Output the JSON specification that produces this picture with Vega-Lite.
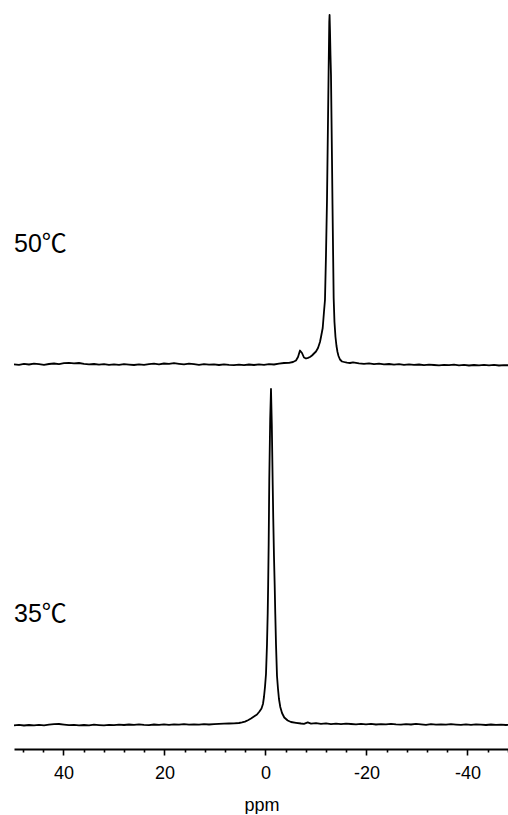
{
  "$schema": "https://vega.github.io/schema/vega-lite/v6.json",
  "padding": {"left": 13, "right": 0, "top": 0, "bottom": 0},
  "background": "white",
  "config": {"view": {"stroke": null}, "concat": {"spacing": 4}, "font": "Liberation Sans"},
  "datasets": {
    "top": [
      {"ppm": 49.80, "v": -0.3}, {"ppm": 48.81, "v": -0.8}, {"ppm": 47.82, "v": 0.1}, {"ppm": 46.83, "v": -0.5},
      {"ppm": 45.84, "v": 0.4}, {"ppm": 44.85, "v": -0.2}, {"ppm": 43.86, "v": -0.9}, {"ppm": 42.87, "v": 0.0},
      {"ppm": 41.88, "v": 0.5}, {"ppm": 40.89, "v": -0.1}, {"ppm": 39.90, "v": 0.8}, {"ppm": 38.91, "v": 1.1},
      {"ppm": 37.92, "v": 0.6}, {"ppm": 36.93, "v": 1.0}, {"ppm": 35.94, "v": 0.2}, {"ppm": 34.95, "v": -0.3},
      {"ppm": 33.96, "v": 0.0}, {"ppm": 32.97, "v": -0.7}, {"ppm": 31.98, "v": -0.2}, {"ppm": 30.99, "v": -0.9},
      {"ppm": 30.00, "v": -0.3}, {"ppm": 29.01, "v": -0.8}, {"ppm": 28.02, "v": -0.1}, {"ppm": 27.03, "v": -0.6},
      {"ppm": 26.04, "v": -1.0}, {"ppm": 25.05, "v": -0.4}, {"ppm": 24.06, "v": -0.9}, {"ppm": 23.07, "v": -0.2},
      {"ppm": 22.08, "v": 0.3}, {"ppm": 21.09, "v": -0.3}, {"ppm": 20.10, "v": 0.5}, {"ppm": 19.11, "v": 0.1},
      {"ppm": 18.12, "v": 0.8}, {"ppm": 17.13, "v": 0.2}, {"ppm": 16.14, "v": -0.4}, {"ppm": 15.15, "v": 0.4},
      {"ppm": 14.16, "v": -0.2}, {"ppm": 13.17, "v": -0.8}, {"ppm": 12.18, "v": -0.1}, {"ppm": 11.19, "v": -0.7},
      {"ppm": 10.20, "v": -0.3}, {"ppm": 9.21, "v": -1.0}, {"ppm": 8.22, "v": -0.4}, {"ppm": 7.23, "v": -0.9},
      {"ppm": 6.24, "v": -1.2}, {"ppm": 5.25, "v": -0.6}, {"ppm": 4.26, "v": -1.1}, {"ppm": 3.27, "v": -0.5},
      {"ppm": 2.28, "v": -1.0}, {"ppm": 1.29, "v": -0.4}, {"ppm": 0.30, "v": -0.8}, {"ppm": -0.69, "v": -0.1},
      {"ppm": -1.68, "v": -0.5}, {"ppm": -2.67, "v": 0.4}, {"ppm": -3.66, "v": 1.0}, {"ppm": -4.65, "v": 1.2},
      {"ppm": -5.45, "v": 2.0}, {"ppm": -6.04, "v": 3.5}, {"ppm": -6.44, "v": 7.0}, {"ppm": -6.83, "v": 13.5},
      {"ppm": -7.23, "v": 11.0}, {"ppm": -7.62, "v": 6.5}, {"ppm": -8.02, "v": 5.5}, {"ppm": -8.42, "v": 6.2},
      {"ppm": -8.81, "v": 7.0}, {"ppm": -9.21, "v": 8.5}, {"ppm": -9.60, "v": 10.5}, {"ppm": -10.00, "v": 12.5},
      {"ppm": -10.40, "v": 16.0}, {"ppm": -10.79, "v": 22.0}, {"ppm": -10.99, "v": 27.0}, {"ppm": -11.33, "v": 36.0},
      {"ppm": -11.58, "v": 52.0}, {"ppm": -11.78, "v": 64.0}, {"ppm": -11.98, "v": 109.0}, {"ppm": -12.18, "v": 164.0},
      {"ppm": -12.38, "v": 244.0}, {"ppm": -12.51, "v": 297.0}, {"ppm": -12.63, "v": 342.0}, {"ppm": -12.69, "v": 349.0},
      {"ppm": -12.77, "v": 334.0}, {"ppm": -12.87, "v": 309.0}, {"ppm": -12.97, "v": 289.0}, {"ppm": -13.17, "v": 204.0},
      {"ppm": -13.27, "v": 159.0}, {"ppm": -13.50, "v": 66.0}, {"ppm": -13.66, "v": 42.0}, {"ppm": -13.86, "v": 27.0},
      {"ppm": -14.06, "v": 18.0}, {"ppm": -14.26, "v": 12.0}, {"ppm": -14.46, "v": 8.0}, {"ppm": -14.75, "v": 4.5},
      {"ppm": -15.15, "v": 2.5}, {"ppm": -15.54, "v": 2.0}, {"ppm": -16.14, "v": 1.3}, {"ppm": -16.73, "v": 1.0},
      {"ppm": -17.33, "v": 1.6}, {"ppm": -17.92, "v": 1.1}, {"ppm": -18.51, "v": 0.6}, {"ppm": -19.50, "v": 0.1},
      {"ppm": -20.50, "v": 0.6}, {"ppm": -21.49, "v": -0.2}, {"ppm": -22.48, "v": 0.3}, {"ppm": -23.47, "v": -0.4},
      {"ppm": -24.46, "v": 0.0}, {"ppm": -25.45, "v": -0.6}, {"ppm": -26.44, "v": -0.2}, {"ppm": -27.43, "v": -0.8},
      {"ppm": -28.42, "v": -0.3}, {"ppm": -29.41, "v": -0.9}, {"ppm": -30.40, "v": -0.5}, {"ppm": -31.39, "v": -1.1},
      {"ppm": -32.38, "v": -0.6}, {"ppm": -33.37, "v": -1.0}, {"ppm": -34.36, "v": -1.4}, {"ppm": -35.35, "v": -0.8},
      {"ppm": -36.34, "v": -1.2}, {"ppm": -37.33, "v": -0.7}, {"ppm": -38.32, "v": -1.3}, {"ppm": -39.31, "v": -0.9},
      {"ppm": -40.30, "v": -1.5}, {"ppm": -41.29, "v": -1.0}, {"ppm": -42.28, "v": -1.4}, {"ppm": -43.27, "v": -0.8},
      {"ppm": -44.26, "v": -1.3}, {"ppm": -45.25, "v": -0.9}, {"ppm": -46.24, "v": -1.5}, {"ppm": -47.23, "v": -1.1},
      {"ppm": -48.22, "v": -1.3}
    ],
    "bottom": [
      {"ppm": 49.80, "v": -1.3}, {"ppm": 48.81, "v": -0.8}, {"ppm": 47.82, "v": -1.5}, {"ppm": 46.83, "v": -1.0},
      {"ppm": 45.84, "v": -1.4}, {"ppm": 44.85, "v": -0.9}, {"ppm": 43.86, "v": -1.3}, {"ppm": 42.87, "v": -0.7},
      {"ppm": 41.88, "v": -0.2}, {"ppm": 40.89, "v": 0.0}, {"ppm": 39.90, "v": -0.6}, {"ppm": 38.91, "v": -1.2},
      {"ppm": 37.92, "v": -0.9}, {"ppm": 36.93, "v": -1.4}, {"ppm": 35.94, "v": -1.0}, {"ppm": 34.95, "v": -1.3},
      {"ppm": 33.96, "v": -0.7}, {"ppm": 32.97, "v": -1.1}, {"ppm": 31.98, "v": -1.4}, {"ppm": 30.99, "v": -0.8},
      {"ppm": 30.00, "v": -1.2}, {"ppm": 29.01, "v": -0.6}, {"ppm": 28.02, "v": -1.0}, {"ppm": 27.03, "v": -0.5},
      {"ppm": 26.04, "v": -0.9}, {"ppm": 25.05, "v": -0.3}, {"ppm": 24.06, "v": -0.8}, {"ppm": 23.07, "v": -1.1},
      {"ppm": 22.08, "v": -0.5}, {"ppm": 21.09, "v": -0.9}, {"ppm": 20.10, "v": -0.4}, {"ppm": 19.11, "v": -0.8},
      {"ppm": 18.12, "v": -0.3}, {"ppm": 17.13, "v": -0.7}, {"ppm": 16.14, "v": -0.2}, {"ppm": 15.15, "v": -0.6},
      {"ppm": 14.16, "v": -0.3}, {"ppm": 13.17, "v": -0.7}, {"ppm": 12.18, "v": -0.2}, {"ppm": 11.19, "v": -0.5},
      {"ppm": 10.20, "v": -0.1}, {"ppm": 9.21, "v": 0.1}, {"ppm": 8.22, "v": 0.3}, {"ppm": 7.23, "v": 0.5},
      {"ppm": 6.24, "v": 0.7}, {"ppm": 5.25, "v": 1.0}, {"ppm": 4.65, "v": 1.6}, {"ppm": 4.06, "v": 2.4},
      {"ppm": 3.47, "v": 3.8}, {"ppm": 2.87, "v": 5.5}, {"ppm": 2.28, "v": 7.5}, {"ppm": 1.68, "v": 9.5},
      {"ppm": 1.19, "v": 12.5}, {"ppm": 0.79, "v": 15.5}, {"ppm": 0.50, "v": 20.0}, {"ppm": 0.30, "v": 27.0},
      {"ppm": 0.10, "v": 37.0}, {"ppm": -0.10, "v": 50.0}, {"ppm": -0.30, "v": 80.0}, {"ppm": -0.44, "v": 111.0},
      {"ppm": -0.53, "v": 140.0}, {"ppm": -0.63, "v": 180.0}, {"ppm": -0.75, "v": 244.0}, {"ppm": -0.93, "v": 305.0},
      {"ppm": -1.09, "v": 335.0}, {"ppm": -1.25, "v": 300.0}, {"ppm": -1.43, "v": 239.0}, {"ppm": -1.54, "v": 205.0},
      {"ppm": -1.68, "v": 168.0}, {"ppm": -1.82, "v": 139.0}, {"ppm": -1.94, "v": 110.0}, {"ppm": -2.08, "v": 80.0},
      {"ppm": -2.28, "v": 48.0}, {"ppm": -2.48, "v": 35.0}, {"ppm": -2.67, "v": 25.0}, {"ppm": -2.93, "v": 17.0},
      {"ppm": -3.27, "v": 11.0}, {"ppm": -3.72, "v": 6.5}, {"ppm": -4.40, "v": 3.5}, {"ppm": -5.05, "v": 2.0},
      {"ppm": -6.04, "v": 1.2}, {"ppm": -7.03, "v": 0.5}, {"ppm": -7.62, "v": 0.2}, {"ppm": -8.36, "v": 1.6},
      {"ppm": -9.01, "v": 0.4}, {"ppm": -10.00, "v": 0.8}, {"ppm": -10.99, "v": 0.2}, {"ppm": -11.98, "v": 0.6},
      {"ppm": -12.97, "v": -0.1}, {"ppm": -13.96, "v": 0.4}, {"ppm": -14.95, "v": -0.2}, {"ppm": -15.94, "v": 0.3},
      {"ppm": -16.93, "v": 0.0}, {"ppm": -17.92, "v": -0.4}, {"ppm": -18.91, "v": 0.2}, {"ppm": -19.90, "v": -0.3},
      {"ppm": -20.89, "v": 0.1}, {"ppm": -21.88, "v": -0.5}, {"ppm": -22.87, "v": -0.1}, {"ppm": -23.86, "v": -0.4},
      {"ppm": -24.85, "v": 0.2}, {"ppm": -25.84, "v": -0.3}, {"ppm": -26.83, "v": -0.6}, {"ppm": -27.82, "v": -0.1},
      {"ppm": -28.81, "v": -0.5}, {"ppm": -29.80, "v": 0.1}, {"ppm": -30.79, "v": -0.4}, {"ppm": -31.78, "v": -0.8},
      {"ppm": -32.77, "v": -0.2}, {"ppm": -33.76, "v": -0.6}, {"ppm": -34.75, "v": -0.3}, {"ppm": -35.74, "v": -0.7},
      {"ppm": -36.73, "v": -0.2}, {"ppm": -37.72, "v": -0.6}, {"ppm": -38.71, "v": -0.9}, {"ppm": -39.70, "v": -0.4},
      {"ppm": -40.69, "v": -0.8}, {"ppm": -41.68, "v": -0.3}, {"ppm": -42.67, "v": -0.7}, {"ppm": -43.66, "v": -1.0},
      {"ppm": -44.65, "v": -0.5}, {"ppm": -45.64, "v": -0.9}, {"ppm": -46.63, "v": -0.6}, {"ppm": -47.62, "v": -1.0},
      {"ppm": -48.22, "v": -0.8}
    ]
  },
  "vconcat": [
    {
      "width": 495,
      "height": 372,
      "layer": [
        {
          "data": {"name": "top"},
          "mark": {"type": "line", "color": "black", "strokeWidth": 1.8, "strokeJoin": "round"},
          "encoding": {
            "x": {"field": "ppm", "type": "quantitative", "scale": {"domain": [-48.22, 49.8], "reverse": true, "nice": false, "zero": false}, "axis": null},
            "y": {"field": "v", "type": "quantitative", "scale": {"domain": [-8, 364], "nice": false, "zero": false}, "axis": null}
          }
        },
        {
          "data": {"values": [{"ppm": 49.8, "v": 112, "label": "50℃"}]},
          "mark": {"type": "text", "align": "left", "baseline": "alphabetic", "fontSize": 25, "font": "Liberation Sans, Noto Sans CJK SC", "color": "black"},
          "encoding": {
            "x": {"field": "ppm", "type": "quantitative"},
            "y": {"field": "v", "type": "quantitative"},
            "text": {"field": "label"}
          }
        }
      ]
    },
    {
      "width": 495,
      "height": 373,
      "resolve": {"axis": {"x": "independent"}},
      "layer": [
        {
          "data": {"name": "bottom"},
          "mark": {"type": "line", "color": "black", "strokeWidth": 1.8, "strokeJoin": "round"},
          "encoding": {
            "x": {
              "field": "ppm", "type": "quantitative",
              "scale": {"domain": [-48.22, 49.8], "reverse": true, "nice": false, "zero": false},
              "axis": {
                "orient": "bottom",
                "title": "ppm",
                "values": [-40, -20, 0, 20, 40],
                "labelExpr": "datum.value < 0 ? '-' + abs(datum.value) : '' + datum.value",
                "grid": false,
                "domainColor": "black",
                "domainWidth": 2,
                "tickColor": "black",
                "tickWidth": 1.6,
                "tickSize": 6,
                "labelFont": "Liberation Sans",
                "labelFontSize": 18,
                "labelColor": "black",
                "labelPadding": 9,
                "labelOverlap": false,
                "labelBound": false,
                "labelFlush": false,
                "titleFont": "Liberation Sans",
                "titleFontSize": 18,
                "titleFontWeight": "normal",
                "titleColor": "black",
                "titlePadding": 14
              }
            },
            "y": {"field": "v", "type": "quantitative", "scale": {"domain": [-25, 348], "nice": false, "zero": false}, "axis": null}
          }
        },
        {
          "data": {"values": [{"ppm": 49.8, "v": 102, "label": "35℃"}]},
          "mark": {"type": "text", "align": "left", "baseline": "alphabetic", "fontSize": 25, "font": "Liberation Sans, Noto Sans CJK SC", "color": "black"},
          "encoding": {
            "x": {
              "field": "ppm", "type": "quantitative",
              "axis": {
                "orient": "bottom",
                "title": null,
                "values": [-48, -44, -36, -32, -28, -24, -16, -12, -8, -4, 4, 8, 12, 16, 24, 28, 32, 36, 44, 48],
                "labels": false,
                "domain": false,
                "grid": false,
                "tickColor": "black",
                "tickWidth": 1.6,
                "tickSize": 3
              }
            },
            "y": {"field": "v", "type": "quantitative"},
            "text": {"field": "label"}
          }
        }
      ]
    }
  ]
}
